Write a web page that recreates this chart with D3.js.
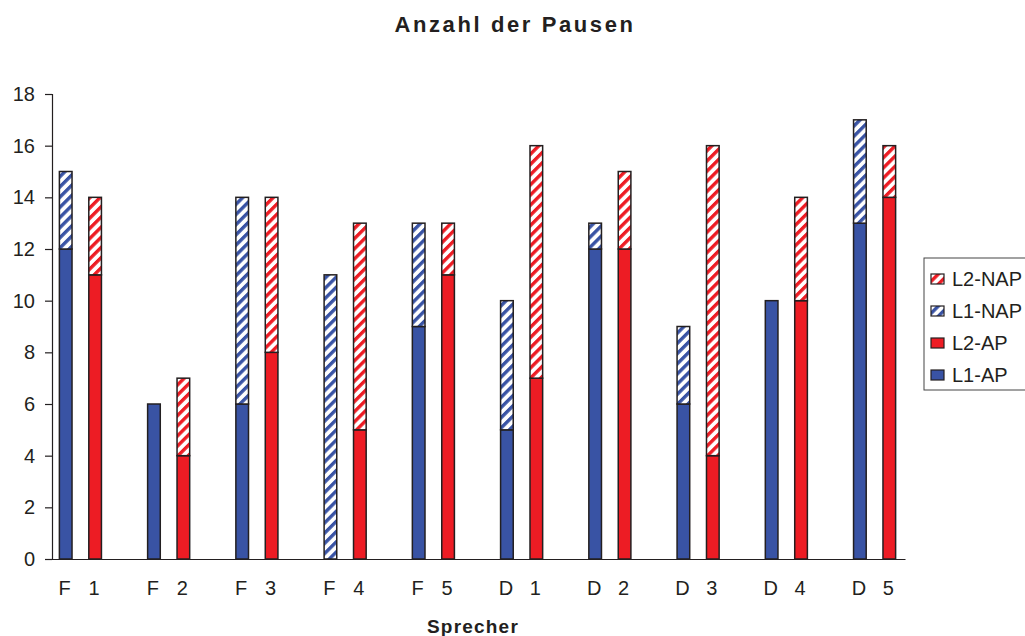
<!DOCTYPE html>
<html>
<head>
<meta charset="utf-8">
<script src="https://cdn.jsdelivr.net/npm/d3@7"></script>
<style>
  body { margin: 0; background: #fff; }
  text { font-family: "Liberation Sans", Arial, sans-serif; fill: #231f20; }
</style>
</head>
<body>
<svg id="chart" xmlns="http://www.w3.org/2000/svg"></svg>
<script>
// speakers: letter goes under the L1 bar, number under the L2 bar
const groupLetters = ["F", "F", "F", "F", "F", "D", "D", "D", "D", "D"];
const groupNumbers = ["1", "2", "3", "4", "5", "1", "2", "3", "4", "5"];
const l1AP  = [12, 6, 6, 0, 9, 5, 12, 6, 10, 13];
const l1NAP = [3, 0, 8, 11, 4, 5, 1, 3, 0, 4];
const l2AP  = [11, 4, 8, 5, 11, 7, 12, 4, 10, 14];
const l2NAP = [3, 3, 6, 8, 2, 9, 3, 12, 4, 2];
const yTicks = [0, 2, 4, 6, 8, 10, 12, 14, 16, 18];
const legendItems = ["L2-NAP", "L1-NAP", "L2-AP", "L1-AP"];

const W = 1025, H = 636;
const margin = { top: 94, right: 120, bottom: 77, left: 52 };
const blue = "#3953a4", red = "#ed1c24", ink = "#231f20";

const svg = d3.select("#chart").attr("width", W).attr("height", H);

// hatch patterns
const defs = svg.append("defs");
function hatch(id, color) {
  const p = defs.append("pattern")
    .attr("id", id)
    .attr("patternUnits", "userSpaceOnUse")
    .attr("width", 7.2).attr("height", 7.2)
    .attr("patternTransform", "rotate(45)");
  p.append("rect").attr("width", 7.2).attr("height", 7.2).attr("fill", "#fff");
  p.append("rect").attr("width", 3.4).attr("height", 7.2).attr("fill", color);
}
hatch("hatchBlue", blue);
hatch("hatchRed", red);

// slots: L1, L2, gap per speaker (no gap after the last one)
const slots = [];
groupLetters.forEach((g, i) => {
  slots.push({ key: i + "-L1", label: g });
  slots.push({ key: i + "-L2", label: groupNumbers[i] });
  if (i < groupLetters.length - 1) slots.push({ key: i + "-gap", label: "" });
});

const x = d3.scaleBand()
  .domain(slots.map(s => s.key))
  .range([margin.left, 905])
  .padding(0);

const y = d3.scaleLinear()
  .domain([0, 18])
  .range([559, margin.top]);

const barW = x.bandwidth() * 0.43;

// stacked segments
const segments = [];
groupLetters.forEach((g, i) => {
  segments.push({ slot: i + "-L1", y0: 0, y1: l1AP[i], fill: blue });
  segments.push({ slot: i + "-L1", y0: l1AP[i], y1: l1AP[i] + l1NAP[i], fill: "url(#hatchBlue)" });
  segments.push({ slot: i + "-L2", y0: 0, y1: l2AP[i], fill: red });
  segments.push({ slot: i + "-L2", y0: l2AP[i], y1: l2AP[i] + l2NAP[i], fill: "url(#hatchRed)" });
});

svg.append("g")
  .selectAll("rect")
  .data(segments.filter(d => d.y1 > d.y0))
  .enter()
  .append("rect")
  .attr("x", d => x(d.slot) + (x.bandwidth() - barW) / 2 - 1)
  .attr("width", barW)
  .attr("y", d => y(d.y1))
  .attr("height", d => y(d.y0) - y(d.y1))
  .attr("fill", d => d.fill)
  .attr("stroke", ink)
  .attr("stroke-width", 1.5);

// y axis
const yAxis = svg.append("g")
  .attr("transform", `translate(${margin.left},0)`)
  .call(d3.axisLeft(y).tickValues(yTicks).tickSize(7).tickPadding(10));
yAxis.select(".domain").attr("stroke", ink).attr("stroke-width", 1.2);
yAxis.selectAll(".tick line").attr("stroke", ink).attr("stroke-width", 1.2);
yAxis.selectAll(".tick text").attr("font-size", 20).attr("fill", ink)
  .style("font-family", "Liberation Sans, Arial, sans-serif");

// x axis
const labelOf = {};
slots.forEach(s => { labelOf[s.key] = s.label; });
const xAxis = svg.append("g")
  .attr("transform", "translate(0,559)")
  .call(d3.axisBottom(x).tickSize(0).tickPadding(22).tickFormat(k => labelOf[k]));
xAxis.select(".domain").attr("stroke", ink).attr("stroke-width", 1.2);
xAxis.selectAll(".tick text").attr("font-size", 20).attr("fill", ink)
  .attr("dx", -2)
  .style("font-family", "Liberation Sans, Arial, sans-serif");

// title and axis title
svg.append("text")
  .attr("x", 515).attr("y", 32)
  .attr("text-anchor", "middle")
  .attr("font-size", 22).attr("font-weight", "bold")
  .attr("letter-spacing", 2.6)
  .text("Anzahl der Pausen");

svg.append("text")
  .attr("x", 473).attr("y", 633)
  .attr("text-anchor", "middle")
  .attr("font-size", 19).attr("font-weight", "bold")
  .attr("letter-spacing", 1.2)
  .text("Sprecher");

// legend
const legendFill = {
  "L2-NAP": "url(#hatchRed)", "L1-NAP": "url(#hatchBlue)",
  "L2-AP": red, "L1-AP": blue
};
const legend = svg.append("g");
legend.append("rect")
  .attr("x", 924).attr("y", 258).attr("width", 140).attr("height", 132)
  .attr("fill", "#fff").attr("stroke", "#444").attr("stroke-width", 1);
const item = legend.selectAll(".item")
  .data(legendItems)
  .enter()
  .append("g")
  .attr("transform", (d, i) => `translate(931,${279 + i * 32})`);
item.append("rect")
  .attr("y", -5).attr("width", 13).attr("height", 10)
  .attr("fill", d => legendFill[d])
  .attr("stroke", ink).attr("stroke-width", 1.2);
item.append("text")
  .attr("x", 21).attr("dy", "0.35em")
  .attr("font-size", 20)
  .text(d => d);
</script>
</body>
</html>
